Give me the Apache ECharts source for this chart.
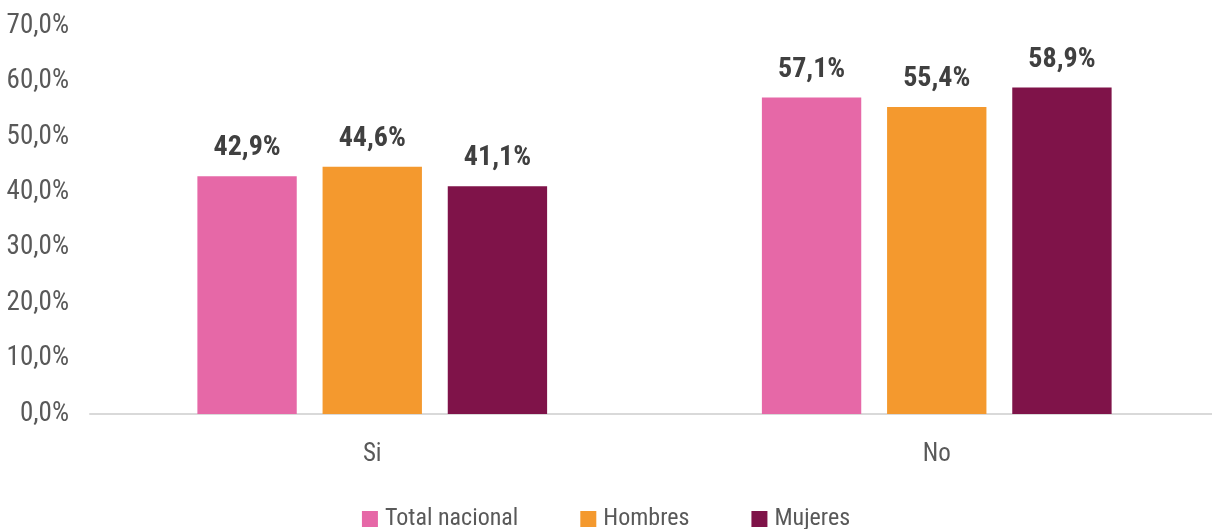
<!DOCTYPE html>
<html>
<head>
<meta charset="utf-8">
<script src="https://cdn.jsdelivr.net/npm/echarts@6/dist/echarts.min.js"></script>
<style>
    html, body { margin: 0; padding: 0; background: #fff; }
    #chart { width: 1212px; height: 529px; }
</style>
</head>
<body>
<div id="chart"></div>
<script>
// categorias y valores (%)
const categorias = ["Si", "No"];
const totalNacional = [42.9, 57.1];
const hombres = [44.6, 55.4];
const mujeres = [41.1, 58.9];
const nombres = ["Total nacional", "Hombres", "Mujeres"];

const fuente = "'Roboto Condensed', 'Liberation Sans Narrow', 'DejaVu Sans Condensed', sans-serif";
const colores = ["#E668A7", "#F4992E", "#7F1349"];

// formato con coma decimal
function pct(v) {
    return v.toFixed(1).replace(".", ",") + "%";
}

const chart = echarts.init(document.getElementById("chart"));

function serie(nombre, datos, i) {
    return {
        name: nombre,
        type: "bar",
        data: datos,
        barWidth: "17.6%",
        barGap: "26%",
        itemStyle: { color: colores[i] },
        label: {
            show: true,
            position: "top",
            distance: 14,
            formatter: (p) => pct(p.value),
            fontFamily: fuente,
            fontWeight: "bold",
            fontSize: 28,
            color: "#404040",
        },
    };
}

chart.setOption({
    animation: false,
    textStyle: { fontFamily: fuente },
    grid: { left: 90, right: -7, top: 26, bottom: 115, outerBoundsMode: "none" },
    legend: {
        top: 502,
        left: "center",
        itemWidth: 16,
        itemHeight: 16,
        itemGap: 62,
        icon: "rect",
        textStyle: { fontFamily: fuente, fontSize: 24, color: "#595959", padding: [0, 0, 0, 2] },
        data: nombres,
    },
    xAxis: {
        type: "category",
        data: categorias,
        axisLine: { lineStyle: { color: "#D9D9D9", width: 2 } },
        axisTick: { show: false },
        axisLabel: { fontFamily: fuente, fontSize: 25, color: "#595959", margin: 28 },
    },
    yAxis: {
        type: "value",
        min: 0,
        max: 70,
        interval: 10,
        splitLine: { show: false },
        axisLine: { show: false },
        axisTick: { show: false },
        axisLabel: {
            fontFamily: fuente,
            fontSize: 27,
            color: "#595959",
            margin: 21,
            formatter: (v) => pct(v),
        },
    },
    series: [
        serie(nombres[0], totalNacional, 0),
        serie(nombres[1], hombres, 1),
        serie(nombres[2], mujeres, 2),
    ],
});
</script>
</body>
</html>
